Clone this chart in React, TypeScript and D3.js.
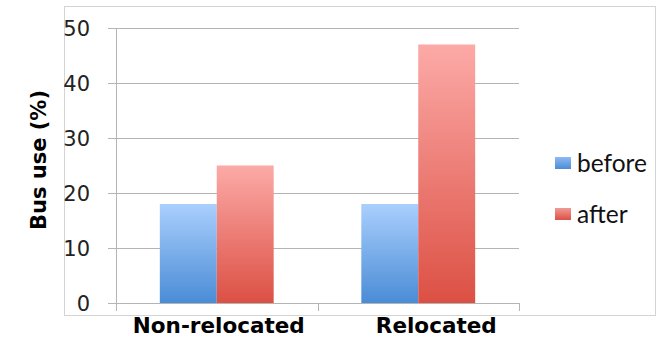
import React from "react";
import * as d3 from "d3";

const categories = ["Non-relocated", "Relocated"];
const seriesNames = ["before", "after"];
const beforeValues = [18, 18];
const afterValues = [25, 47];
const yTicks = [0, 10, 20, 30, 40, 50];

const W = 660;
const H = 337;

export default function App() {
  const x0 = d3.scaleBand<string>().domain(categories).range([116, 519]).paddingInner(0).paddingOuter(0);
  const x1 = d3.scaleBand<string>().domain(seriesNames).range([0, x0.bandwidth()]).paddingOuter(0.77).paddingInner(0);
  const y = d3.scaleLinear().domain([0, 50]).range([303, 28]);
  const values: Record<string, number[]> = { before: beforeValues, after: afterValues };
  const fills: Record<string, string> = { before: "url(#gBlue)", after: "url(#gRed)" };
  const labelShift = [2, 18];
  const font = "'DejaVu Sans', Verdana, sans-serif";
  const legendFont = "Lato, 'Open Sans', sans-serif";

  return (
    <svg width={W} height={H} style={{ position: "absolute", left: 0, top: 0 }} xmlns="http://www.w3.org/2000/svg">
      <defs>
        <linearGradient id="gBlue" x1="0" y1="0" x2="0" y2="1">
          <stop offset="0" stopColor="#aacffd" />
          <stop offset="1" stopColor="#4a8cd6" />
        </linearGradient>
        <linearGradient id="gRed" x1="0" y1="0" x2="0" y2="1">
          <stop offset="0" stopColor="#fcaaa7" />
          <stop offset="1" stopColor="#dc5044" />
        </linearGradient>
        <linearGradient id="lBlue" x1="0" y1="0" x2="0" y2="1">
          <stop offset="0" stopColor="#8dbaf2" />
          <stop offset="1" stopColor="#4a8cd6" />
        </linearGradient>
        <linearGradient id="lRed" x1="0" y1="0" x2="0" y2="1">
          <stop offset="0" stopColor="#f09a96" />
          <stop offset="1" stopColor="#dc5044" />
        </linearGradient>
      </defs>
      <rect x={0} y={0} width={W} height={H} fill="#fff" />
      <rect x={64.5} y={6.5} width={591} height={309} fill="none" stroke="#d4d4d4" strokeWidth={1} />

      {/* gridlines */}
      {yTicks.map((t) => (
        <line key={t} x1={108} x2={519} y1={Math.round(y(t)) + 0.5} y2={Math.round(y(t)) + 0.5} stroke="#b4b4b4" strokeWidth={1} />
      ))}
      {/* y axis */}
      <line x1={116.5} x2={116.5} y1={y(50)} y2={311} stroke="#b4b4b4" />
      {categories.map((c) => (
        <line key={c} x1={Math.round(x0(c)! + x0.bandwidth()) + 0.5} x2={Math.round(x0(c)! + x0.bandwidth()) + 0.5} y1={303} y2={311} stroke="#b4b4b4" />
      ))}

      {/* bars */}
      {categories.map((c, i) =>
        seriesNames.map((s) => {
          const v = values[s][i];
          return (
            <rect
              key={c + s}
              x={x0(c)! + x1(s)!}
              y={y(v)}
              width={x1.bandwidth()}
              height={y(0) - y(v)}
              fill={fills[s]}
            />
          );
        })
      )}

      {/* y tick labels */}
      {yTicks.map((t) => (
        <text key={t} x={90} y={y(t) + 7.5} textAnchor="end" fontFamily={font} fontSize={21} fill="#222">
          {t}
        </text>
      ))}

      {/* y axis title */}
      <text
        transform={`translate(46,160) rotate(-90)`}
        textAnchor="middle"
        fontFamily={font}
        fontWeight="bold"
        fontSize={21}
        fill="#000"
      >
        Bus use (%)
      </text>

      {/* category labels */}
      {categories.map((c, i) => (
        <text
          key={c}
          x={x0(c)! + x0.bandwidth() / 2 + labelShift[i]}
          y={333}
          textAnchor="middle"
          fontFamily={font}
          fontWeight="bold"
          fontSize={21.5}
          fill="#000"
        >
          {c}
        </text>
      ))}

      {/* legend */}
      {seriesNames.map((s, i) => (
        <g key={s} transform={`translate(555,${157 + i * 51})`}>
          <rect x={0} y={0} width={16} height={12} fill={s === "before" ? "url(#lBlue)" : "url(#lRed)"} />
          <text x={22} y={15} fontFamily={legendFont} fontSize={24.5} fill="#111">
            {s}
          </text>
        </g>
      ))}
    </svg>
  );
}
